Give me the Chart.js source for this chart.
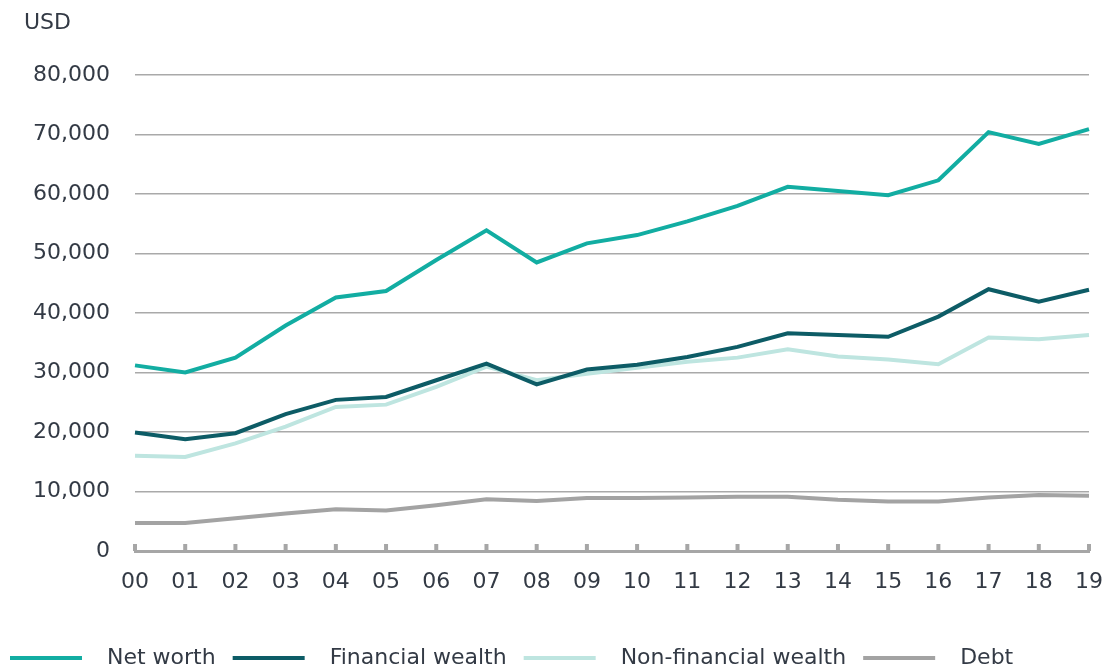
<!DOCTYPE html>
<html>
<head>
<meta charset="utf-8">
<script src="https://cdn.jsdelivr.net/npm/chart.js@4/dist/chart.umd.min.js"></script>
<style>
  html, body { margin: 0; padding: 0; background: #fff; overflow: hidden; }
  #wrap { width: 1108px; height: 671px; position: relative; }
  #chart { display: block; }
</style>
</head>
<body>
<div id="wrap"><canvas id="chart"></canvas></div>
<script>
// ---- data ----
const years = ["00","01","02","03","04","05","06","07","08","09","10","11","12","13","14","15","16","17","18","19"];

const netWorth = [31200, 30000, 32500, 37900, 42600, 43700, 48900, 53900, 48500, 51700, 53100, 55400, 58000, 61200, 60500, 59800, 62300, 70400, 68400, 70900];
const financialWealth = [19900, 18800, 19800, 23000, 25400, 25900, 28700, 31500, 28000, 30500, 31300, 32600, 34300, 36600, 36300, 36000, 39400, 44000, 41900, 43900];
const nonFinancialWealth = [16000, 15800, 18100, 20900, 24200, 24600, 27600, 31000, 28700, 29800, 30800, 31800, 32500, 33900, 32700, 32200, 31400, 35900, 35600, 36300];
const debt = [4700, 4700, 5500, 6300, 7000, 6800, 7700, 8700, 8400, 8900, 8900, 9000, 9100, 9100, 8600, 8300, 8300, 9000, 9400, 9300];

const seriesNames = ["Net worth", "Financial wealth", "Non-financial wealth", "Debt"];
const seriesColors = ["#12ADA2", "#0D5C66", "#BEE5E0", "#A3A3A3"];

const FONT = "'DejaVu Sans', sans-serif";
const TEXT = "#333a45";

// "USD" unit label in the top-left corner
const unitLabel = {
    id: "unitLabel",
    afterDraw(chart) {
        const ctx = chart.ctx;
        ctx.save();
        ctx.font = "22px " + FONT;
        ctx.fillStyle = TEXT;
        ctx.textAlign = "left";
        ctx.textBaseline = "middle";
        ctx.fillText("USD", 24, 23);
        ctx.restore();
    }
};

// short upward ticks on the x axis line
const upTicks = {
    id: "upTicks",
    afterDraw(chart) {
        const x = chart.scales.x;
        const ctx = chart.ctx;
        const base = chart.chartArea.bottom;
        ctx.save();
        ctx.strokeStyle = "#A6A6A6";
        ctx.lineWidth = 4;
        x.ticks.forEach((t, i) => {
            const px = x.getPixelForTick(i);
            ctx.beginPath();
            ctx.moveTo(px, base);
            ctx.lineTo(px, base - 7);
            ctx.stroke();
        });
        ctx.restore();
    }
};

const datasets = [netWorth, financialWealth, nonFinancialWealth, debt].map((d, i) => ({
    label: seriesNames[i],
    data: d,
    borderColor: seriesColors[i],
    backgroundColor: seriesColors[i],
    borderWidth: 4,
    pointRadius: 0,
    tension: 0,
    order: i === 3 ? 4 : i
}));

new Chart(document.getElementById("chart"), {
    type: "line",
    data: { labels: years, datasets: datasets },
    plugins: [unitLabel, upTicks],
    options: {
        responsive: true,
        maintainAspectRatio: false,
        animation: false,
        layout: { padding: { top: 75, right: 19, left: -7, bottom: -8 } },
        plugins: {
            tooltip: { enabled: false },
            legend: {
                position: "bottom",
                align: "start",
                labels: {
                    boxWidth: 72,
                    boxHeight: 4,
                    padding: 17,
                    color: TEXT,
                    font: { family: FONT, size: 22 },
                    generateLabels(chart) {
                        return Chart.defaults.plugins.legend.labels.generateLabels(chart)
                            .map(l => ({ ...l, text: "  " + l.text, lineWidth: 0 }));
                    }
                }
            }
        },
        scales: {
            x: {
                offset: false,
                grid: { display: false, drawTicks: false },
                border: { display: true, color: "#A6A6A6", width: 3 },
                ticks: {
                    color: TEXT,
                    font: { family: FONT, size: 22 },
                    padding: 18,
                    maxRotation: 0,
                    autoSkip: false
                },
                afterFit(scale) {
                    scale.height = 79;
                    scale.paddingLeft = 0;
                    scale.paddingRight = 0;
                }
            },
            y: {
                min: 0,
                max: 80000,
                grid: { color: "#A9A9A9", lineWidth: 1.5, drawTicks: false },
                border: { display: false },
                ticks: {
                    stepSize: 10000,
                    color: TEXT,
                    padding: 25,
                    font: { family: FONT, size: 22 },
                    callback: v => v.toLocaleString("en-US")
                },
                afterFit(scale) { scale.width = 142; }
            }
        }
    }
});
</script>
</body>
</html>
